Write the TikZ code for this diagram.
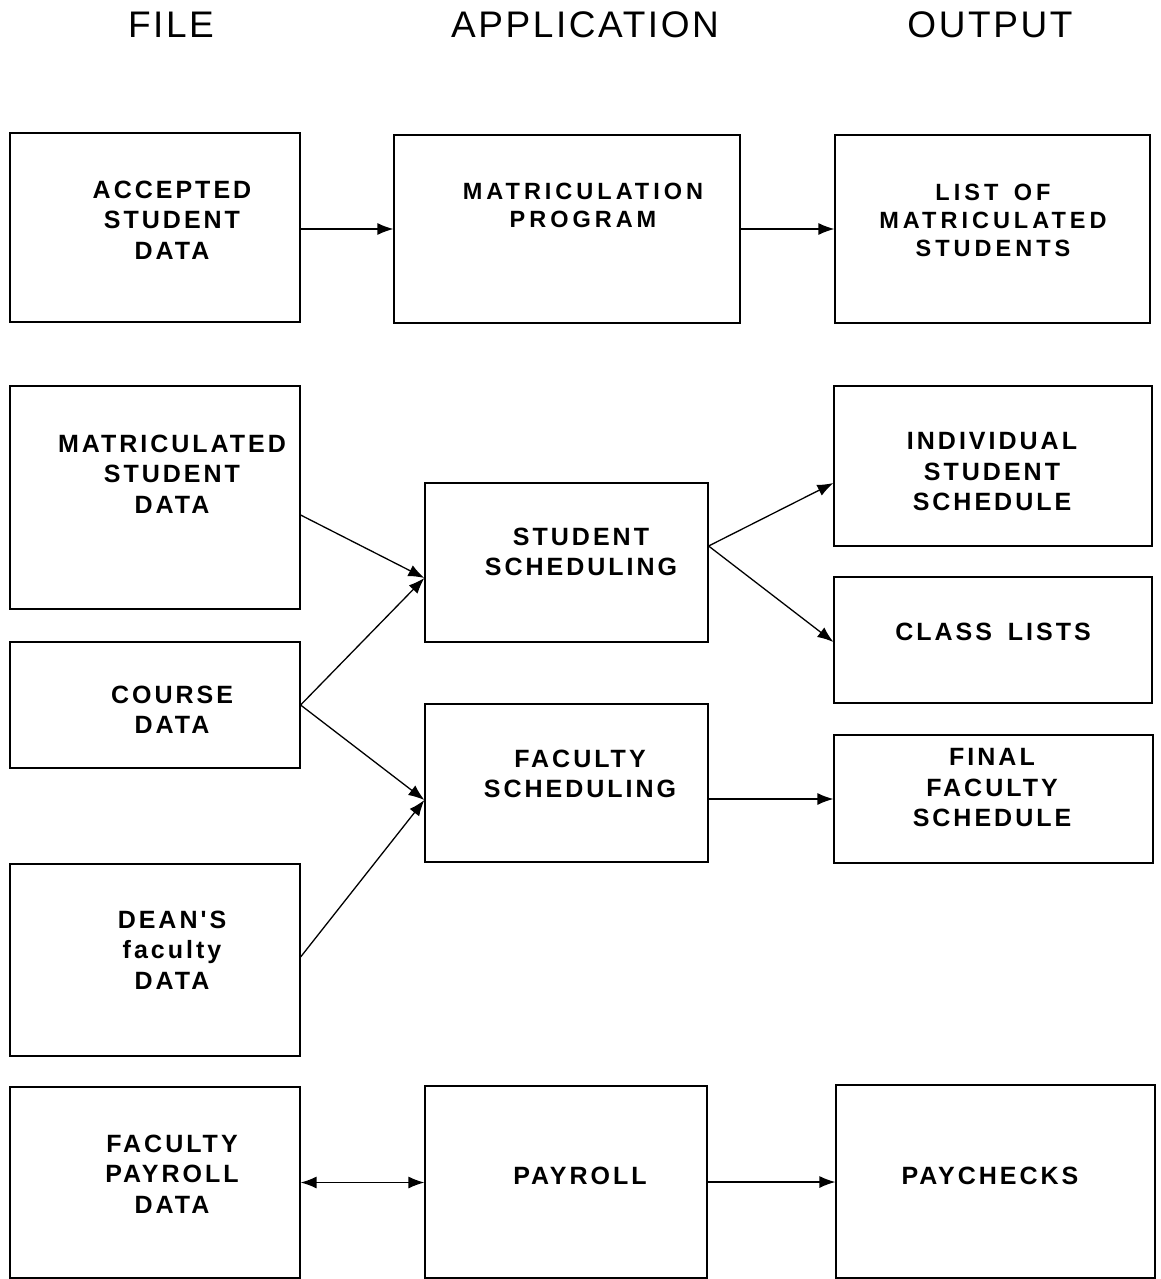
\documentclass[tikz,border=0pt]{standalone}
\usepackage{fontspec}
\setmainfont{Liberation Sans}
\newfontfamily\widefont[LetterSpace=12]{Liberation Sans Bold}
\newfontfamily\narrowfont[LetterSpace=17]{Liberation Sans Bold}
\newfontfamily\headfont[LetterSpace=7]{Liberation Sans}
\usetikzlibrary{arrows.meta}
\begin{document}
\begin{tikzpicture}[x=1pt,y=-1pt,
  box/.style={draw,line width=1.2pt,rectangle,inner sep=0pt},
  wlab/.style={align=center,inner sep=0pt,font=\widefont\fontsize{25}{30.5}\selectfont},
  nlab/.style={align=center,inner sep=0pt,font=\narrowfont\fontsize{23.5}{28}\selectfont},
  head/.style={inner sep=0pt,font=\headfont\fontsize{37}{40}\selectfont},
  conn/.style={line width=1.3pt,-{Latex[length=16pt,width=12pt]}}]
\useasboundingbox (0,0) rectangle (1160,1279);
\fill[white] (0,0) rectangle (1160,1279);

% headers
\node[head] (hfile) at (171,25) {FILE};
\node[head] (happ) at (585,25) {APPLICATION};
\node[head] (hout) at (990,25) {OUTPUT};

% boxes
\node[box,minimum width=290pt,minimum height=189pt] (acc) at (155,227.5) {};
\node[box,minimum width=346pt,minimum height=188pt] (mprog) at (567,229) {};
\node[box,minimum width=315pt,minimum height=188pt] (list) at (992.5,229) {};
\node[box,minimum width=290pt,minimum height=223pt] (msd) at (155,497.5) {};
\node[box,minimum width=283pt,minimum height=159pt] (ss) at (566.5,562.5) {};
\node[box,minimum width=318pt,minimum height=160pt] (ind) at (993,466) {};
\node[box,minimum width=318pt,minimum height=126pt] (cls) at (993,640) {};
\node[box,minimum width=290pt,minimum height=126pt] (course) at (155,705) {};
\node[box,minimum width=283pt,minimum height=158pt] (fs) at (566.5,783) {};
\node[box,minimum width=319pt,minimum height=128pt] (final) at (993.5,799) {};
\node[box,minimum width=290pt,minimum height=192pt] (dean) at (155,960) {};
\node[box,minimum width=290pt,minimum height=191pt] (fpd) at (155,1182.5) {};
\node[box,minimum width=282pt,minimum height=192pt] (pay) at (566,1182) {};
\node[box,minimum width=319pt,minimum height=193pt] (paych) at (995.5,1181.5) {};

% labels
\node[wlab] (tacc) at (172,220) {ACCEPTED\\STUDENT\\DATA};
\node[nlab] (tmprog) at (583,205) {MATRICULATION\\PROGRAM};
\node[nlab] (tlist) at (993,220) {LIST\hspace{5pt} OF\\MATRICULATED\\STUDENTS};
\node[wlab] (tmsd) at (172,474) {MATRICULATED\\STUDENT\\DATA};
\node[wlab] (tss) at (581,552) {STUDENT\\SCHEDULING};
\node[wlab] (tind) at (992,472) {INDIVIDUAL\\STUDENT\\SCHEDULE};
\node[wlab] (tcls) at (993,632) {CLASS\hspace{6pt} LISTS};
\node[wlab] (tcourse) at (172,710) {COURSE\\DATA};
\node[wlab] (tfs) at (580,774) {FACULTY\\SCHEDULING};
\node[wlab] (tfinal) at (992,788) {FINAL\\FACULTY\\SCHEDULE};
\node[wlab] (tdean) at (172,950) {DEAN'S\\faculty\\DATA};
\node[wlab] (tfpd) at (172,1174) {FACULTY\\PAYROLL\\DATA};
\node[wlab] (tpay) at (580,1176) {PAYROLL};
\node[wlab] (tpaych) at (990,1176) {PAYCHECKS};

% connectors
\draw[conn] ([yshift=-1.5pt]acc.east) -- ([yshift=-1.5pt]acc.east -| mprog.west);
\draw[conn] (mprog.east) -- (mprog.east -| list.west);
\draw[conn] ([yshift=-17.5pt]msd.east) -- ([yshift=-15.5pt]ss.west);
\draw[conn] (course.east) -- ([yshift=-15.5pt]ss.west);
\draw[conn] (course.east) -- ([yshift=-17pt]fs.west);
\draw[conn] ([yshift=3pt]dean.east) -- ([yshift=-17pt]fs.west);
\draw[conn] ([yshift=16.5pt]ss.east) -- ([yshift=-17pt]ind.west);
\draw[conn] ([yshift=16.5pt]ss.east) -- ([yshift=-2pt]cls.west);
\draw[conn] ([yshift=-16pt]fs.east) -- ([yshift=-16pt]fs.east -| final.west);
\draw[line width=1.3pt,{Latex[length=16pt,width=12pt]}-{Latex[length=16pt,width=12pt]}] (fpd.east) -- (fpd.east -| pay.west);
\draw[conn] (pay.east) -- (pay.east -| paych.west);
\end{tikzpicture}
\end{document}
